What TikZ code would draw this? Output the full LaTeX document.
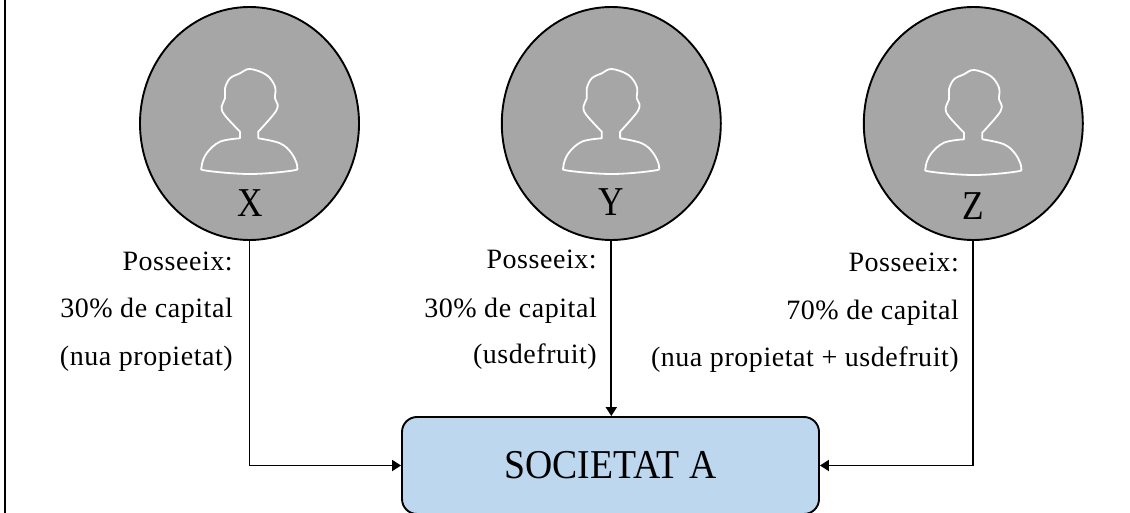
\documentclass[tikz,border=0pt]{standalone}
\usepackage{fontspec}
\setmainfont[LetterSpace=2]{Liberation Serif}
\newfontfamily\plainserif{Liberation Serif}
\usetikzlibrary{shapes.geometric,arrows.meta}
\definecolor{circlegrey}{HTML}{A6A6A6}
\definecolor{boxblue}{HTML}{BDD7EE}
\newcommand{\lettertext}[1]{\scalebox{.86}[1]{\plainserif\fontsize{41}{41}\selectfont #1}}
\tikzset{
  x=1pt,y=-1pt,
  person circle/.style={ellipse,draw=black,fill=circlegrey,line width=1.9pt,inner sep=0pt,minimum width=219pt,minimum height=233pt},
  letter/.style={anchor=base,inner sep=0pt},
  caption/.style={anchor=base east,inner sep=0pt,font=\fontsize{28}{28}\selectfont},
  company/.style={rectangle,rounded corners=15pt,draw=black,fill=boxblue,line width=1.9pt,minimum width=417pt,minimum height=97pt,inner sep=0pt},
  link/.style={line width=1.9pt,-{Triangle[length=9pt,width=11pt]}},
  person/.pic={
    \draw[white,line width=1.8pt,line join=round]
      (9,138.3) -- (9,131.7)
      -- plot[smooth,tension=.6] coordinates{(9,131.7) (20.7,118.7) (27.3,110) (28.3,104) (25.7,98.3) (25.7,86.7) (17.3,75) (0.7,69) (-9.3,73.3) (-19.3,78.3) (-24.3,88.3) (-24.3,98.3) (-27.7,106.7) (-24.7,115) (-9.3,131.7)}
      -- (-9.3,138.3)
      -- plot[smooth,tension=.6] coordinates{(-9.3,138.3) (-29.3,141.7) (-42.7,153.3) (-47.7,166.7) (-42.7,170.7) (0.7,174) (42.3,170.7) (48,166.7) (42.3,153.3) (30.7,143.3) (9,138.3)};
  }
}
\begin{document}
\begin{tikzpicture}
\useasboundingbox (0,0) rectangle (1130,513);
\fill[white] (0,0) rectangle (1130,513);
\fill[black] (4,0) rectangle (6,513);
\begin{scope}
\clip (0,0) rectangle (1130,513);
\node[company] (box) at (610.5,465.5) {\scalebox{.92}[1]{\plainserif\fontsize{41}{41}\selectfont SOCIETAT A}};
\end{scope}
\node[person circle] (X) at (249.5,123.5) {};
\node[person circle] (Y) at (611.3,123.5) {};
\node[person circle] (Z) at (973.3,123.5) {};
\pic at (249.3,0) {person};
\pic at (611.1,0) {person};
\pic at (973.3,1) {person};
\node[letter] (lx) at (250,217) {\lettertext{X}};
\node[letter] (ly) at (611,216) {\lettertext{Y}};
\node[letter] (lz) at (973.5,220) {\lettertext{Z}};
\node[caption] (x1) at (233,270) {Posseeix:};
\node[caption] (x2) at (233,317) {30\% de capital};
\node[caption] (x3) at (233,365) {(nua propietat)};
\node[caption] (y1) at (597,269) {Posseeix:};
\node[caption] (y2) at (597,317) {30\% de capital};
\node[caption] (y3) at (597,363) {(usdefruit)};
\node[caption] (z1) at (959,272) {Posseeix:};
\node[caption] (z2) at (959,319) {70\% de capital};
\node[caption] (z3) at (959,366) {(nua propietat + usdefruit)};
\draw[link] (X.south) |- (box.west);
\draw[link] (Y.south) -- (Y.south |- box.north);
\draw[link] (Z.south) |- (box.east);
\end{tikzpicture}
\end{document}
